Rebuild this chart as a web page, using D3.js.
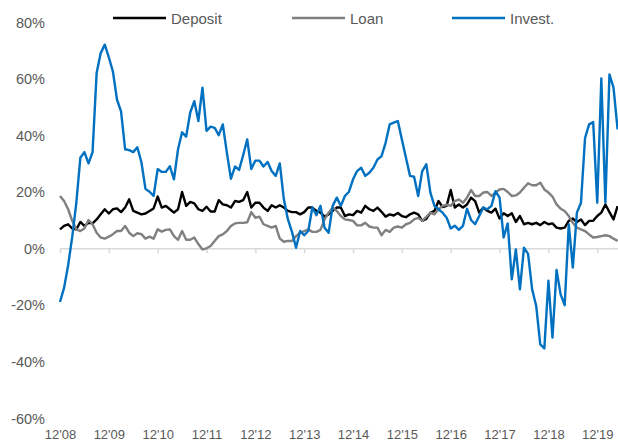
<!DOCTYPE html>
<html>
<head>
<meta charset="utf-8">
<script src="https://cdn.jsdelivr.net/npm/d3@7"></script>
<style>
  body { margin: 0; background: #fff; }
  svg { display: block; font-family: "Liberation Sans", Arial, sans-serif; }
  .axis text { fill: #595959; font-size: 13px; }
  .axis--y text { font-size: 14.5px; }
</style>
</head>
<body>
<svg id="viz" width="618" height="445"></svg>
<script>
// monthly YoY growth (%), Dec 2008 .. May 2020
var deposit = [6.7, 7.9, 8.5, 7, 6.7, 9.3, 7.9, 9, 8.8, 10.2, 12, 13.8, 12.3, 13.8, 14.1, 12.8, 14.4, 17.3, 13.2, 12.6,
  12, 12.3, 13.2, 14.1, 18.3, 14.4, 15, 13.8, 12.6, 13.8, 19.9, 15, 16.4, 15.9, 13.8, 13.2, 14.7, 13, 13, 17,
  15.5, 15.2, 14.4, 16.7, 16.4, 17, 19.9, 14.4, 16.1, 16.1, 14.4, 13.2, 15.2, 14.4, 15.2, 14.4, 13.2, 12.8, 12.8, 12,
  12.8, 14.4, 14.4, 13.2, 12.6, 11.2, 12, 13.2, 14.4, 14.4, 11.4, 12, 11.7, 13.2, 12.6, 15, 13.8, 13.2, 14.4, 12.9,
  11.2, 12, 11.6, 12.5, 11.4, 11, 12, 12.6, 12, 9.7, 10.4, 12.5, 13.2, 16.7, 14.6, 15, 20.6, 14.4, 15.5, 14.4,
  15.5, 17.9, 16.7, 12.6, 14.4, 13.2, 12.6, 14, 10.5, 12.4, 11.4, 12.4, 9.3, 11.4, 8.5, 9, 8.5, 9, 8.2, 9.3,
  8.5, 8.8, 7.3, 7, 7.3, 9.7, 10.5, 9.3, 10.2, 8.2, 9.7, 9.7, 11.4, 12.6, 15.5, 12.8, 10.2, 14.9];

var loan = [18.5, 16.7, 13.8, 9.7, 6.7, 6.1, 7, 10, 8.5, 5.5, 3.8, 3.4, 4.1, 5, 6.1, 6.1, 7.9, 5.5, 4.3, 5.3,
  5, 3.4, 4.1, 3.4, 6.7, 5.9, 6.5, 6.7, 4.3, 3, 6.1, 3, 3, 3.8, 1.5, -0.4, 0, 0.8, 2.6, 4.3,
  4.9, 6.1, 7.9, 8.8, 9, 9, 9.2, 12.8, 10.8, 11.2, 8.5, 7.9, 7.3, 7.9, 3.4, 2.3, 2.6, 2.6, 4.3, 5.5,
  6.1, 6.7, 5.8, 5.8, 6.5, 10.2, 12.6, 14.4, 13.2, 11.4, 10.2, 10, 9.7, 8.1, 8.1, 9, 7.7, 7.3, 7.3, 4.6,
  6.5, 5.8, 7.3, 7.7, 7.3, 8.5, 9, 10.2, 10.8, 9.7, 11.1, 12.6, 12, 13.8, 15, 15.4, 15, 16.7, 17.3, 16.1,
  17.9, 20.6, 18.5, 18.5, 19.7, 19.9, 18.5, 19.7, 20.8, 21, 19.9, 18.5, 18.7, 19.7, 21.4, 23, 22.3, 22.3, 23.2, 20.8,
  19.7, 18.3, 15.5, 14, 13.2, 11.4, 9, 7.3, 6.7, 6.1, 4.9, 3.8, 4, 4.3, 4.6, 4.3, 3.4, 2.6];

var invest = [-19, -14, -6, 4, 16, 32, 34, 30, 34, 62, 69, 72, 67.5, 62.5, 52.6, 48.4, 35, 34.7, 34, 35.7,
  30.4, 21, 20, 18.5, 28, 27, 27, 29, 24.4, 35, 41, 39.5, 48, 52, 45, 56.8, 41.5, 43, 42.6, 40,
  43.8, 33.8, 24.6, 28.9, 27.7, 32.9, 38.5, 28, 31, 31, 28.9, 30.5, 27.3, 25.6, 30, 17.3, 10.2, 5.8, 0.2, 6.1,
  4.6, 6.1, 14.4, 11.7, 15, 7.3, 5.5, 15, 17.9, 15, 18.5, 20, 24.4, 27.3, 28.5, 25.6, 26.7, 28.5, 31.4, 32.6,
  37.3, 43.8, 44.4, 45, 38.5, 32, 25.6, 25.3, 18.5, 27.3, 29.7, 19.7, 15, 13.8, 12.6, 10.8, 7, 8, 6.5, 7.9,
  14, 10, 8.5, 11.4, 14.4, 13.8, 15, 20.2, 17.9, 3.8, 8.8, -11, -0.4, -14.5, 0.2, -2, -14.5, -20.4, -34, -35.4,
  -11.5, -31.6, -7.7, -16.3, -20.1, 8.5, -6.8, 12.6, 16.1, 39, 43.8, 44.6, 16.1, 60, 16.1, 61.5, 56.8, 42];

var seriesNames = ["Deposit", "Loan", "Invest."];
var seriesColors = ["#000000", "#808080", "#0070c0"];
var yTicks = [-60, -40, -20, 0, 20, 40, 60, 80];
var xLabels = ["12'08", "12'09", "12'10", "12'11", "12'12", "12'13", "12'14", "12'15", "12'16", "12'17", "12'18", "12'19"];

var chart = {};
chart.svg = d3.select("#viz");
chart.x = d3.scaleLinear().domain([0, deposit.length - 1]).range([60, 617.6]);
chart.y = d3.scaleLinear().domain([-60, 80]).range([418, 22]);

// y labels, no axis line
var gy = chart.svg.append("g")
    .attr("class", "axis axis--y")
    .attr("transform", "translate(45,0)")
    .call(d3.axisLeft(chart.y).tickValues(yTicks).tickSize(0).tickPadding(0)
        .tickFormat(function (d) { return d + "%"; }));
gy.select(".domain").remove();
gy.selectAll("text").attr("dy", "0.35em");

// zero line with year ticks
var tickIdx = xLabels.map(function (d, i) { return i * 12; });
var gx = chart.svg.append("g")
    .attr("class", "axis axis--zero")
    .attr("transform", "translate(0," + chart.y(0) + ")")
    .call(d3.axisBottom(chart.x).tickValues(tickIdx).tickSize(5).tickSizeOuter(0)
        .tickFormat(""));
gx.select(".domain").attr("stroke", "#d9d9d9").attr("stroke-width", 1.5)
    .attr("d", "M60,0.5H618");
gx.selectAll(".tick line").attr("stroke", "#d9d9d9").attr("stroke-width", 1.5);

// year labels at the bottom
var gl = chart.svg.append("g")
    .attr("class", "axis")
    .attr("transform", "translate(0,430)")
    .call(d3.axisBottom(chart.x).tickValues(tickIdx).tickSize(0).tickPadding(0)
        .tickFormat(function (d, i) { return xLabels[i]; }));
gl.select(".domain").remove();

var line = d3.line()
    .x(function (d, i) { return chart.x(i); })
    .y(function (d) { return chart.y(d); });

[deposit, loan, invest].forEach(function (s, k) {
    chart.svg.append("path")
        .datum(s)
        .attr("fill", "none")
        .attr("stroke", seriesColors[k])
        .attr("stroke-width", 2.4)
        .attr("stroke-linejoin", "round")
        .attr("d", line);
});

// legend
var legendX = [113, 292, 452];
var lg = chart.svg.append("g");
seriesNames.forEach(function (name, k) {
    lg.append("line")
        .attr("x1", legendX[k]).attr("x2", legendX[k] + 53)
        .attr("y1", 18).attr("y2", 18)
        .attr("stroke", seriesColors[k]).attr("stroke-width", 2.4);
    lg.append("text")
        .attr("x", legendX[k] + 58).attr("y", 23.5)
        .attr("fill", "#595959").attr("font-size", "15px")
        .text(name);
});
</script>
</body>
</html>
